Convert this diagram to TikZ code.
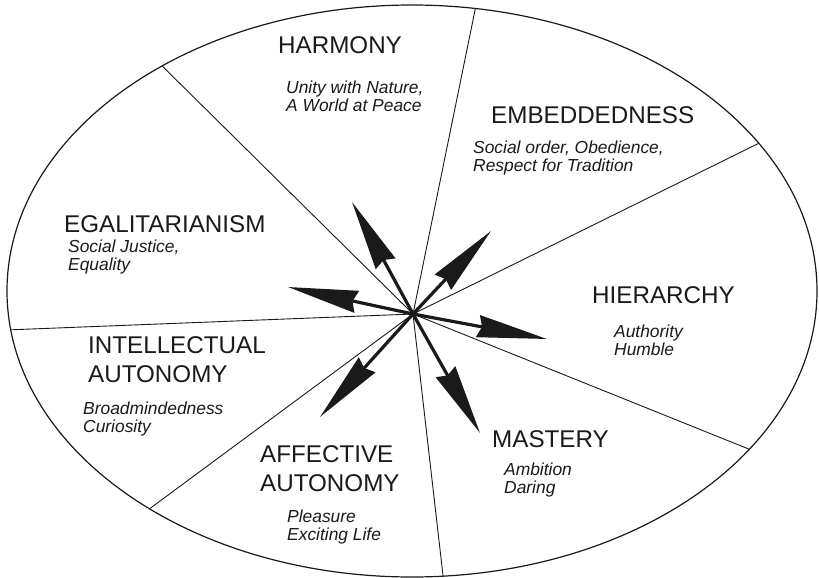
\documentclass[tikz,border=0pt]{standalone}
\usepackage{fontspec}
\setmainfont{Liberation Sans}
\usetikzlibrary{arrows.meta,calc}
\definecolor{ink}{HTML}{1A1A1A}
\begin{document}
\begin{tikzpicture}[x=1pt,y=-1pt,
  title/.style={anchor=base west, inner sep=0pt, text=ink, font=\fontsize{24.2}{29}\selectfont},
  sub/.style={anchor=base west, inner sep=0pt, text=ink, font=\fontsize{17.4}{18.5}\selectfont\itshape},
  divider/.style={draw=ink, line width=0.9pt},
  rim/.style={draw=ink, line width=1.2pt},
  vec/.style={draw=ink, line width=3.2pt, -{Stealth[length=70pt,width=22pt,inset=4pt]}}
]
\useasboundingbox (0,0) rectangle (819,578);
\fill[white] (0,0) rectangle (819,578);
\coordinate (o) at (412,291);
\coordinate (c) at (413,314);
\draw[rim] (o) ellipse [x radius=405, y radius=286];
% divider ends on the rim
\coordinate (e1) at ($(o)+(-128.1:405 and 286)$);
\coordinate (e2) at ($(o)+(-81.0:405 and 286)$);
\coordinate (e3) at ($(o)+(-31.1:405 and 286)$);
\coordinate (e4) at ($(o)+(33.6:405 and 286)$);
\coordinate (e5) at ($(o)+(85.6:405 and 286)$);
\coordinate (e6) at ($(o)+(130.4:405 and 286)$);
\coordinate (e7) at ($(o)+(172.2:405 and 286)$);
\foreach \e in {e1,e2,e3,e4,e5,e6,e7} \draw[divider] (c) -- (\e);
% arrow tips
\coordinate (aharm) at (352,202);
\coordinate (aemb) at (491,231);
\coordinate (ahie) at (547,339);
\coordinate (amas) at (480,433);
\coordinate (aaff) at (320,417);
\coordinate (aega) at (288,287);
\foreach \a in {aharm,aemb,ahie,amas,aaff,aega} \draw[vec] (c) -- (\a);
% labels
\node[title] (tharm) at (278,54) {HARMONY};
\node[sub] (sharm) at (286,93) {\begin{tabular}[t]{@{}l@{}}Unity with Nature,\\A World at Peace\end{tabular}};
\node[title] (temb) at (491,123) {EMBEDDEDNESS};
\node[sub] (semb) at (473,153) {\begin{tabular}[t]{@{}l@{}}Social order, Obedience,\\Respect for Tradition\end{tabular}};
\node[title] (tega) at (64,232) {EGALITARIANISM};
\node[sub] (sega) at (68,252) {\begin{tabular}[t]{@{}l@{}}Social Justice,\\Equality\end{tabular}};
\node[title] (thie) at (592,303) {HIERARCHY};
\node[sub] (shie) at (614,337) {\begin{tabular}[t]{@{}l@{}}Authority\\Humble\end{tabular}};
\node[title] (tint) at (88,353) {\begin{tabular}[t]{@{}l@{}}INTELLECTUAL\\AUTONOMY\end{tabular}};
\node[sub] (sint) at (83,414) {\begin{tabular}[t]{@{}l@{}}Broadmindedness\\Curiosity\end{tabular}};
\node[title] (taff) at (260,462) {\begin{tabular}[t]{@{}l@{}}AFFECTIVE\\AUTONOMY\end{tabular}};
\node[sub] (saff) at (287,522) {\begin{tabular}[t]{@{}l@{}}Pleasure\\Exciting Life\end{tabular}};
\node[title] (tmas) at (492,447) {MASTERY};
\node[sub] (smas) at (504,475) {\begin{tabular}[t]{@{}l@{}}Ambition\\Daring\end{tabular}};
\end{tikzpicture}
\end{document}
